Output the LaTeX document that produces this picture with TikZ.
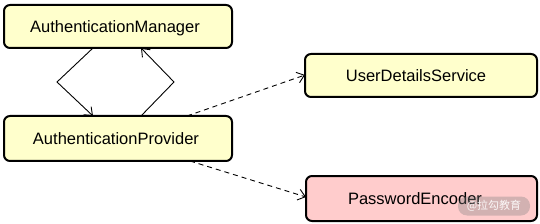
\documentclass[tikz,border=0pt]{standalone}
\usepackage{fontspec}
\setmainfont{Liberation Sans}
\newfontfamily\cjk{Noto Sans CJK SC}
\usetikzlibrary{arrows.meta}
\definecolor{boxyellow}{HTML}{FFFFCC}
\definecolor{boxpink}{HTML}{FFCCCC}
\tikzset{
  classbox/.style={draw=black, line width=2pt, rounded corners=6pt, inner sep=0pt},
  lbl/.style={font=\fontsize{16.5}{18}\selectfont, inner sep=0pt, anchor=center},
  solidarrow/.style={line width=0.9pt, -{Straight Barb[length=7pt,width=11pt,line width=0.9pt]}},
  dasharrow/.style={line width=0.9pt, dash pattern=on 5pt off 4pt, -{Straight Barb[length=7pt,width=11pt,line width=0.9pt]}},
}
\begin{document}
\begin{tikzpicture}[x=1pt,y=-1pt]
\useasboundingbox (0,0) rectangle (540,224);
% boxes
\draw[classbox, fill=boxyellow] (4,5) rectangle (232,48);
\draw[classbox, fill=boxyellow] (4,116) rectangle (232,161);
\draw[classbox, fill=boxyellow] (305,54) rectangle (537,97);
\draw[classbox, fill=boxpink] (306,176) rectangle (537,221);
% invisible nodes for names
\node[lbl] (mgr) at (115,28) {AuthenticationManager};
\node[lbl] (prov) at (116,139) {AuthenticationProvider};
\node[lbl] (uds) at (416,76) {UserDetailsService};
\node[lbl] (pe) at (415,199) {PasswordEncoder};
\coordinate (mgrL) at (93,48);
\coordinate (mgrR) at (141,48);
\coordinate (provL) at (93,116);
\coordinate (provR) at (141,116);
\coordinate (kinkL) at (57,82);
\coordinate (kinkR) at (174,82);
\coordinate (provTop) at (187,116);
\coordinate (provBot) at (190,161);
\coordinate (udsL) at (305,75);
\coordinate (peL) at (306,197);
\draw[solidarrow] (mgrL) -- (kinkL) -- (provL);
\draw[solidarrow] (provR) -- (kinkR) -- (mgrR);
\draw[dasharrow] (provTop) -- (udsL);
\draw[dasharrow] (provBot) -- (peL);
% watermark
\node[fill=gray, fill opacity=0.35, text opacity=0.9, text=white, rounded corners=9pt, minimum width=72pt, minimum height=19pt, inner sep=0pt, font=\cjk\fontsize{11}{12}\selectfont] (wm) at (494,206) {@拉勾教育};
\end{tikzpicture}
\end{document}
